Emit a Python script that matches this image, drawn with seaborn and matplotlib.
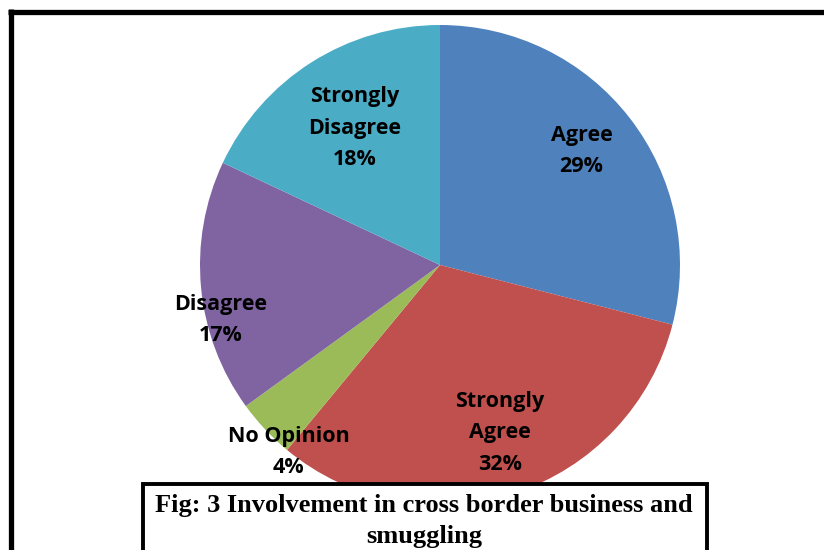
import matplotlib
matplotlib.use("Agg")
import matplotlib.pyplot as plt
import seaborn as sns
import numpy as np
from matplotlib.patches import Rectangle
from matplotlib.lines import Line2D

sns.set_theme(style="white")

categories = ["Agree", "Strongly\nAgree", "No Opinion", "Disagree", "Strongly\nDisagree"]
values = [29, 32, 4, 17, 18]
colors = ["#4F81BD", "#C0504D", "#9BBB59", "#8064A2", "#4BACC6"]
caption = "Fig: 3 Involvement in cross border business and\nsmuggling"

# label layout (axes data coords, pie radius = 1)
label_pos = [(0.59, 0.475), (0.25, -0.70), (-0.63, -0.78), (-0.915, -0.23), (-0.355, 0.57)]

W, H = 824, 550
fig = plt.figure(figsize=(W / 100, H / 100), dpi=100)
fig.patch.set_facecolor("white")

cx, cy, r = 440, 265, 240
ax = fig.add_axes([(cx - r) / W, (H - cy - r) / H, 2 * r / W, 2 * r / H])
wedges, texts = ax.pie(values, colors=colors, startangle=90, counterclock=False,
                       radius=1, wedgeprops=dict(linewidth=0))
ax.set_xlim(-1, 1)
ax.set_ylim(-1, 1)
ax.set_aspect("equal")
ax.axis("off")

for cat, v, (x, y) in zip(categories, values, label_pos):
    ax.text(x, y, f"{cat}\n{v}%", ha="center", va="center", fontsize=15.5,
            fontweight="bold", family="Open Sans", color="black",
            linespacing=1.65, zorder=10)

# outer frame (top and left lines)
fig.add_artist(Line2D([8 / W, 1.0], [1 - 11.5 / H, 1 - 11.5 / H], color="black",
                      lw=3.8, transform=fig.transFigure, solid_capstyle="butt"))
fig.add_artist(Line2D([10.5 / W, 10.5 / W], [1 - 9 / H, 0], color="black",
                      lw=3.8, transform=fig.transFigure, solid_capstyle="butt"))

# caption box
bx0, bx1, by0 = 143, 707, 484
rect = Rectangle((bx0 / W, -0.05), (bx1 - bx0) / W, (H - by0) / H + 0.05,
                 transform=fig.transFigure, facecolor="white", edgecolor="black",
                 lw=2.8, zorder=20)
fig.add_artist(rect)
fig.text(424 / W, 1 - 521 / H, caption, ha="center", va="center",
         family="Liberation Serif", fontweight="bold", fontsize=19,
         linespacing=1.42, color="black", zorder=21)

fig.savefig("out.png", dpi=100, facecolor="white")
